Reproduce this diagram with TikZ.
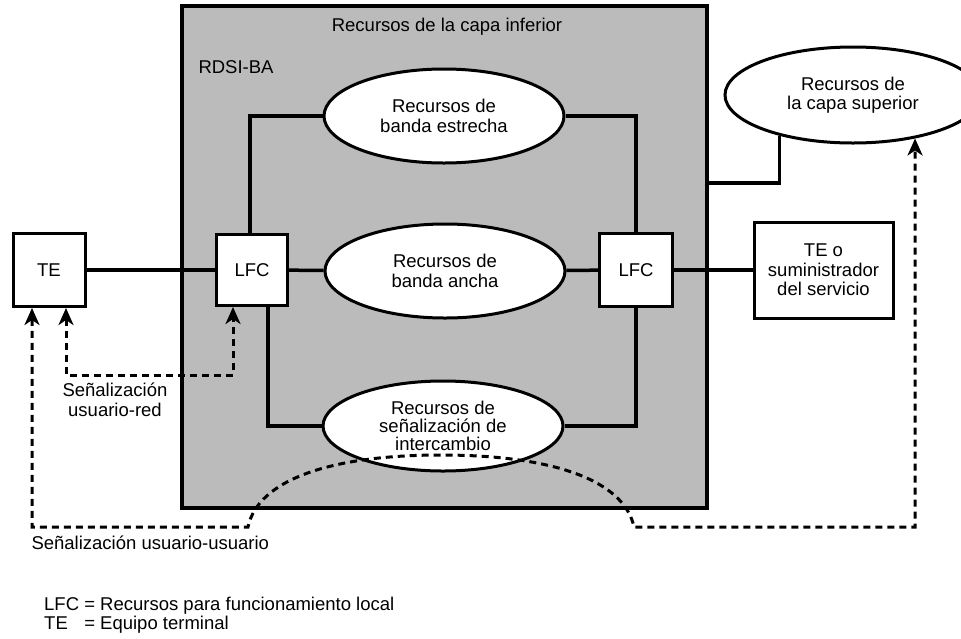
\documentclass[tikz,border=0pt]{standalone}
\usepackage{fontspec}
\setmainfont{Liberation Sans}
\usepackage{xcolor}
\usepackage{tikz}
\usetikzlibrary{arrows.meta,positioning,shapes.geometric}
\definecolor{areagray}{HTML}{BBBBBB}

\begin{document}
\begin{tikzpicture}[x=1pt,y=-1pt,>={Stealth[length=17pt,width=15pt,inset=5pt]},font=\fontsize{18.5}{19.5}\selectfont]

\tikzset{
bx/.style={
    draw,
    line width=3pt,
    fill=white,
    inner sep=2pt,
    align=center
},
res/.style={
    ellipse,
    draw,
    line width=3pt,
    fill=white,
    minimum width=240pt,
    minimum height=94pt,
    inner sep=0pt,
    align=center
},
ln/.style={line width=3.5pt},
sg/.style={<->,line width=3pt,dash pattern=on 7pt off 5pt}
}

\useasboundingbox (0,0) rectangle (961,638);

\node[draw,line width=3.5pt,fill=areagray,minimum width=525pt,minimum height=502pt] (rdsi) at (444.5,257) {};
\node (inf) at (447,27) {Recursos de la capa inferior};
\node[anchor=west] (ba) at (195,67) {RDSI-BA};

\node[bx,minimum width=72pt,minimum height=73pt] (te) at (49,270) {TE};
\node[bx,minimum width=71pt,minimum height=71pt] (lfcl) at (252,270) {LFC};
\node[res] (ancha) at (445,271) {Recursos de\\banda ancha};
\node[bx,minimum width=73pt,minimum height=73pt] (lfcr) at (636,270) {LFC};
\node[bx,minimum width=139pt,minimum height=96pt] (teo) at (823.5,270) {TE o\\suministrador\\del servicio};
\node[res] (estrecha) at (444,116) {Recursos de\\banda estrecha};
\node[res,minimum height=90pt,font=\fontsize{18.5}{18}\selectfont] (senal) at (443,426) {Recursos de\\señalización de\\intercambio};
\node[res,minimum width=256pt,minimum height=96pt] (sup) at (853,95) {Recursos de\\la capa superior};

\draw[ln] (te) -- (lfcl);
\draw[ln] (lfcl) -- (ancha);
\draw[ln] (ancha) -- (lfcr);
\draw[ln] (lfcr) -- (teo);
\draw[ln] ([xshift=-2pt]lfcl.north) |- (estrecha);
\draw[ln] (estrecha) -| (lfcr.north);
\draw[ln] ([xshift=16pt]lfcl.south) |- (senal);
\draw[ln] (senal) -| (lfcr.south);
\draw[ln] (rdsi.east |- 0,183) -| (sup.209);

% senalizacion
\coordinate (ur) at (150,375);
\coordinate (uu1) at (248,527);
\coordinate (uu2) at (634,527);
\draw[sg] ([xshift=17pt]te.south) |- (ur) -| ([xshift=-19pt]lfcl.south);
\draw[sg] ([xshift=-17pt]te.south) |- (uu1) .. controls (258,480) and (330,455) .. (441,455) .. controls (552,455) and (624,480) .. (uu2) -| (sup.325);

\node[align=center] (ured) at (115,400) {Señalización\\usuario-red};
\node[anchor=west] (uu) at (28,543) {Señalización usuario-usuario};
\node[anchor=west,inner sep=0pt,font=\fontsize{18.5}{17}\selectfont] (leg) at (44,616) {\begin{tabular}{@{}l@{ }l}LFC & = Recursos para funcionamiento local\\TE & = Equipo terminal\end{tabular}};

\end{tikzpicture}
\end{document}
